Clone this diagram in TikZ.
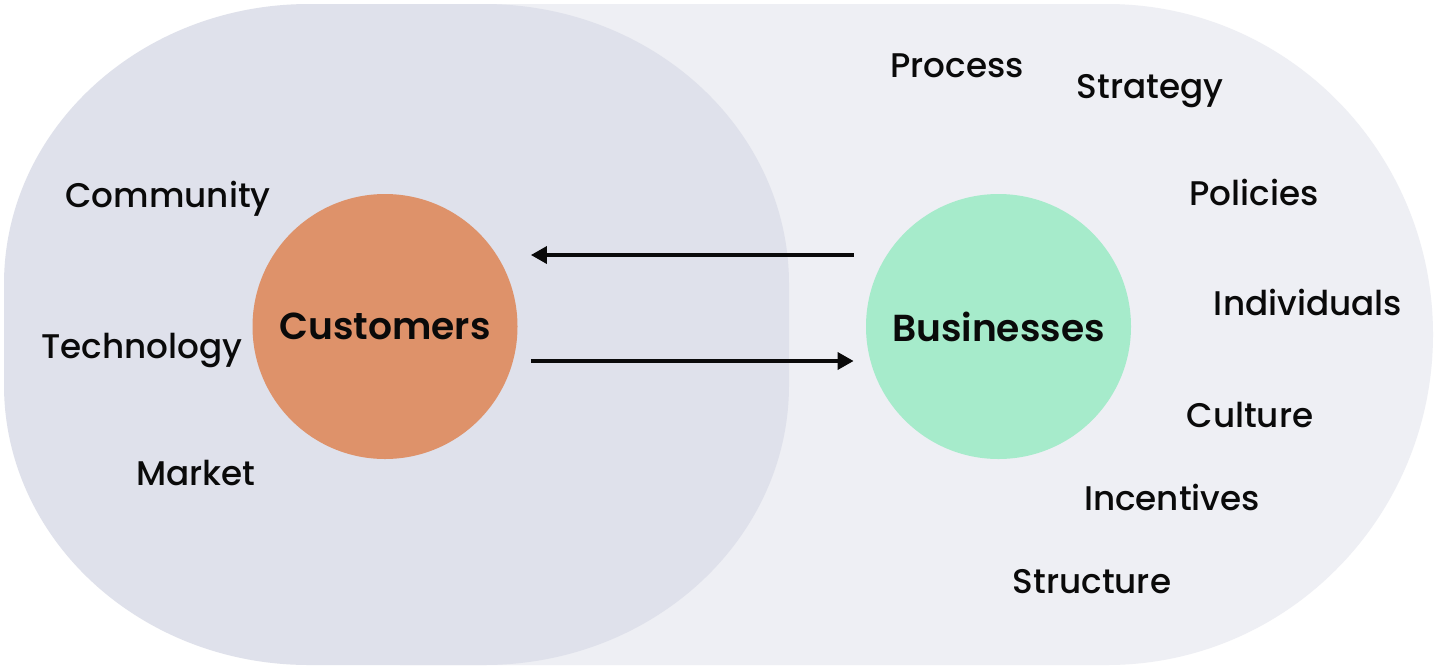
\documentclass[tikz,border=0pt]{standalone}
\usepackage{fontspec}
\setmainfont{Poppins}[UprightFont=* Medium, BoldFont=* SemiBold]
\usetikzlibrary{arrows.meta}
\definecolor{darkzone}{RGB}{223,225,235}
\definecolor{lightzone}{RGB}{238,239,244}
\definecolor{custfill}{RGB}{222,146,106}
\definecolor{bizfill}{RGB}{166,235,203}
\definecolor{ink}{RGB}{10,10,10}
\tikzset{
  lbl/.style={anchor=base, font=\fontsize{17.1}{20}\selectfont, text=ink, inner sep=0pt},
  hub/.style={circle, minimum size=132.5pt, inner sep=0pt, font=\bfseries\fontsize{18.8}{22}\selectfont, text=ink},
  arr/.style={line width=1.75pt, draw=ink, -{Triangle[length=8pt,width=8.5pt]}}
}
\begin{document}
\begin{tikzpicture}[x=0.5pt,y=0.5pt]
\useasboundingbox (0,0) rectangle (1440,-671);
\fill[white] (0,0) rectangle (1440,-671);
% light capsule
\fill[lightzone] (400,-4) -- (1107,-4)
  arc[start angle=90, end angle=-90, x radius=326, y radius=330.5]
  -- (400,-665) -- cycle;
% darker rounded zone
\fill[darkzone] (309,-4) -- (484,-4)
  arc[start angle=90, end angle=0, x radius=305, y radius=280]
  -- (789,-385)
  arc[start angle=0, end angle=-90, x radius=305, y radius=280]
  -- (309,-665)
  arc[start angle=-90, end angle=-180, x radius=305, y radius=280]
  -- (4,-284)
  arc[start angle=180, end angle=90, x radius=305, y radius=280];
% hubs
\node[hub, fill=custfill] (cust) at (385,-326.5) {Customers};
\node[hub, fill=bizfill] (biz) at (998.5,-326.5) {Businesses};
% arrows
\draw[arr] ([xshift=-6pt,yshift=35.75pt]biz.west) -- ([xshift=6.5pt,yshift=35.75pt]cust.east);
\draw[arr] ([xshift=6.5pt,yshift=-17.25pt]cust.east) -- ([xshift=-6pt,yshift=-17.25pt]biz.west);
% customer-side labels
\node[lbl] (community) at (168,-207) {Community};
\node[lbl] (technology) at (142,-358) {Technology};
\node[lbl] (market) at (196,-485) {Market};
% business-side labels
\node[lbl] (process) at (957,-77) {Process};
\node[lbl] (strategy) at (1150,-98) {Strategy};
\node[lbl] (policies) at (1254,-205) {Policies};
\node[lbl] (individuals) at (1308,-315) {Individuals};
\node[lbl] (culture) at (1250,-427) {Culture};
\node[lbl] (incentives) at (1172,-510) {Incentives};
\node[lbl] (structure) at (1092,-593) {Structure};
\end{tikzpicture}
\end{document}
